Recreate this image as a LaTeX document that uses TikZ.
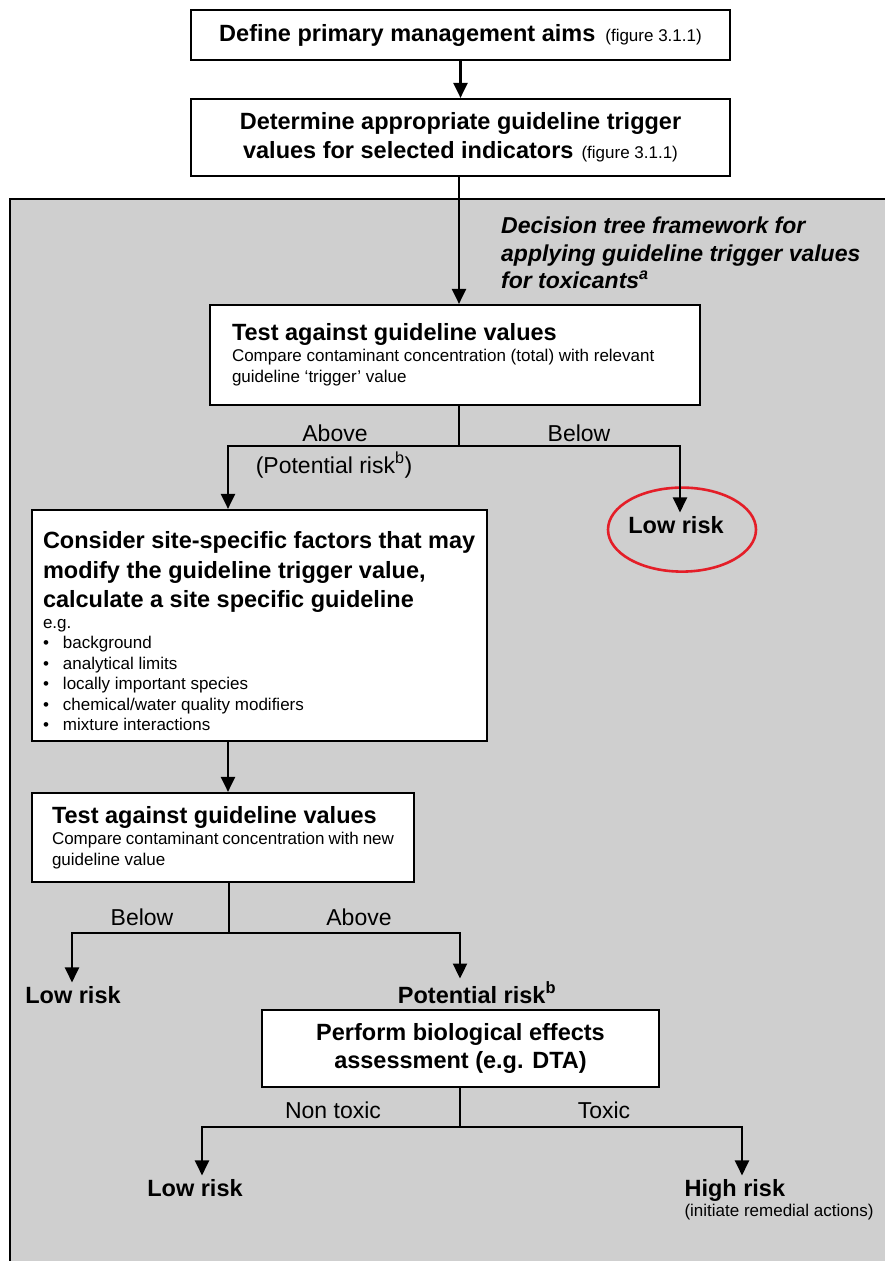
\documentclass[tikz,border=0pt]{standalone}
\usepackage{fontspec}
\setmainfont{Liberation Sans}
\usetikzlibrary{arrows.meta}

\definecolor{panelgray}{RGB}{207,207,207}
\definecolor{markred}{RGB}{228,30,40}

\newcommand{\bigtxt}{\fontsize{23.5}{29}\selectfont\spaceskip=0pt\relax}
\newcommand{\lbltxt}{\fontsize{23}{27}\selectfont}
\newcommand{\smalltxt}{\fontsize{17}{21}\selectfont\spaceskip=0pt\relax}
\newcommand{\figref}{{\fontsize{17}{20}\selectfont\mdseries (figure 3.1.1)}}
\newcommand{\bitem}[1]{\makebox[20pt][l]{\textbullet}#1}

\begin{document}
\begin{tikzpicture}[x=1pt, y=-1pt,
    box/.style={draw, fill=white, line width=2.2pt, rectangle},
    arr/.style={line width=2.2pt, -{Triangle[length=15pt,width=14pt]}},
    wire/.style={line width=2.2pt},
    lbl/.style={anchor=base, font=\lbltxt},
    risk/.style={anchor=base, font=\bigtxt\bfseries}]
    \useasboundingbox (0,0) rectangle (885,1261);
    % grey panel of the decision tree
    \fill[panelgray] (10,199) rectangle (900,1275);
    \draw[line width=2.2pt] (10,1275) -- (10,199) -- (900,199);

    \node[box, minimum width=539pt, minimum height=50pt] (aims) at (460.5,35) {\bigtxt\bfseries Define primary management aims\hspace{10pt}\figref};
    \node[box, minimum width=539pt, minimum height=77pt, align=center, font=\bigtxt\bfseries] (trig) at (460.5,137.5) {Determine appropriate guideline trigger\\values for selected indicators\hspace{8pt}\figref};

    \node[anchor=north west, inner sep=0pt, align=left, font=\fontsize{23}{27.5}\selectfont\bfseries\itshape] (frame) at (501,217) {Decision tree framework for\\applying guideline trigger values\\for toxicants\textsuperscript{a}};

    \node[box, minimum width=490pt, minimum height=100pt, inner xsep=22pt, text width=446pt, align=left] (test1) at (455,355) {{\bigtxt\bfseries Test against guideline values\par}{\smalltxt Compare contaminant concentration (total) with relevant\\guideline `trigger' value\par}};

    \node[lbl] (above1) at (335,441) {Above};
    \node[lbl] (below1) at (579,441) {Below};
    \node[lbl] (pot1) at (334,473) {(Potential risk\textsuperscript{b})};
    \node[risk] (low1) at (676,533) {Low risk};
    \draw[markred, line width=2.6pt] ([xshift=6pt,yshift=-5pt]low1.center) ellipse [x radius=74pt, y radius=42pt];

    \node[box, minimum width=455pt, minimum height=231pt, inner xsep=11pt, text width=433pt, align=left] (site) at (259.5,625.5) {{\fontsize{23.5}{29.5}\selectfont\spaceskip=0pt\bfseries\rule{0pt}{29pt}Consider site-specific factors that may\\modify the guideline trigger value,\\calculate a site specific guideline\par}{\fontsize{17}{20.5}\selectfont\spaceskip=0pt e.g.\\\bitem{background}\\\bitem{analytical limits}\\\bitem{locally important species}\\\bitem{chemical/water quality modifiers}\\\bitem{mixture interactions}\par}};

    \node[box, minimum width=382pt, minimum height=89pt, inner xsep=20pt, text width=342pt, align=left] (test2) at (223,837.5) {{\bigtxt\bfseries Test against guideline values\par}{\smalltxt Compare contaminant concentration with new\\guideline value\par}};

    \node[lbl] (below2) at (142,925) {Below};
    \node[lbl] (above2) at (359,925) {Above};
    \node[risk] (low2) at (73,1003) {Low risk};
    \node[risk] (pot2) at (477,1003) {Potential risk\textsuperscript{b}};

    \node[box, minimum width=397pt, minimum height=77pt, align=center, font=\fontsize{23.5}{28}\selectfont\bfseries] (bio) at (460.5,1048.5) {Perform biological effects\\assessment (e.g. DTA)};

    \node[lbl] (nontox) at (333,1118) {Non toxic};
    \node[lbl] (tox) at (604,1118) {Toxic};
    \node[risk] (low3) at (195,1196) {Low risk};
    \node[risk, anchor=base west] (high) at (681,1196) {High risk};
    \node[anchor=base west, font=\smalltxt] (remed) at (681,1216) {(initiate remedial actions)};

    % connectors
    \coordinate (j1) at (459,446);
    \coordinate (j1l) at (228,446);
    \coordinate (j1r) at (680,446);
    \coordinate (j2) at (229,933);
    \coordinate (j2l) at (72,933);
    \coordinate (j2r) at (460,933);
    \coordinate (j3) at (460,1127);
    \coordinate (j3l) at (202,1127);
    \coordinate (j3r) at (742,1127);

    \draw[arr] (aims) -- (trig);
    \draw[arr] (trig.south -| j1) -- (test1.north -| j1);
    \draw[wire] (test1.south -| j1) -- (j1);
    \draw[arr] (j1) -- (j1l) -- (j1l |- site.north);
    \draw[arr] (j1) -- (j1r) -- (j1r |- low1.north);
    \draw[arr] (site.south -| j1l) -- (test2.north -| j1l);
    \draw[wire] (test2.south -| j2) -- (j2);
    \draw[arr] (j2) -- (j2l) -- (j2l |- low2.north);
    \draw[arr] (j2) -- (j2r) -- (j2r |- pot2.north);
    \draw[wire] (bio.south -| j3) -- (j3);
    \draw[arr] (j3) -- (j3l) -- (j3l |- low3.north);
    \draw[arr] (j3) -- (j3r) -- (j3r |- high.north);
\end{tikzpicture}
\end{document}
